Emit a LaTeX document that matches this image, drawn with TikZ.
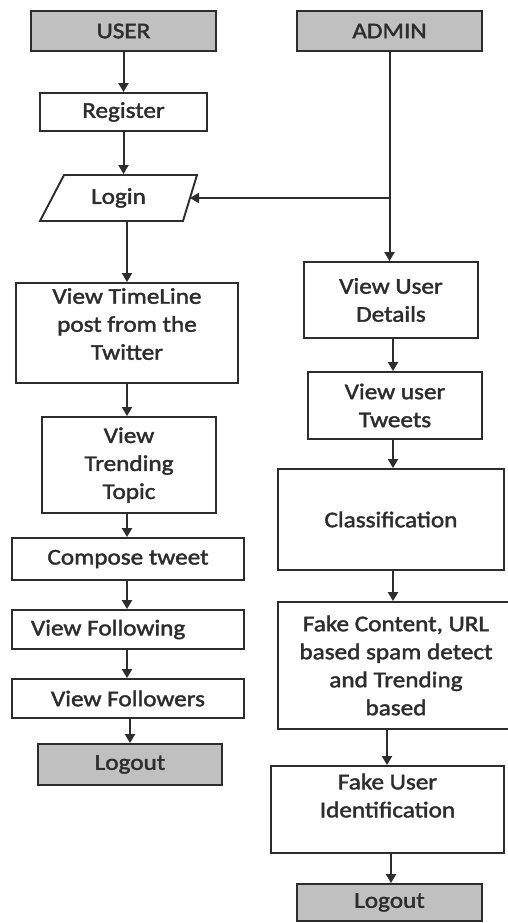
\documentclass[tikz,border=0pt]{standalone}
\usepackage{fontspec}
\setmainfont{Carlito}[FakeStretch=1.12,FakeBold=1.8]
\usetikzlibrary{arrows.meta}
\definecolor{boxgray}{RGB}{192,192,192}
\definecolor{ink}{RGB}{45,45,45}
\tikzset{
  box/.style={draw=ink, line width=1.9pt, rectangle, align=center, text=ink, inner sep=0pt,
    font=\fontsize{22.5}{28}\selectfont},
  headbox/.style={box, fill=boxgray},
  arr/.style={draw=ink, line width=2pt, -{Triangle[width=10pt,length=9pt]}}
}
\begin{document}
\begin{tikzpicture}[x=1pt,y=-1pt]
\useasboundingbox (0,0) rectangle (507,923);
\fill[white] (0,0) rectangle (507,923);
% left column
\node[headbox, minimum width=185pt, minimum height=40pt] (user) at (123.5,31) {USER};
\node[box, minimum width=167pt, minimum height=38pt] (register) at (123.5,112) {Register};
\draw[ink, line width=1.9pt] (64,175) -- (197,175) -- (183,221) -- (40,221) -- cycle;
\node[box, draw=none, minimum width=120pt, minimum height=46pt] (login) at (118.5,198) {Login};
\coordinate (loginR) at (190,198);
\node[box, minimum width=222pt, minimum height=100pt] (timeline) at (127,333) {View TimeLine\\post from the\\Twitter\\[-10pt]\mbox{}};
\node[box, minimum width=174pt, minimum height=96pt] (trending) at (129,465) {View\\Trending\\Topic};
\node[box, minimum width=232pt, minimum height=42pt] (compose) at (128,559) {Compose tweet};
\node[box, minimum width=232pt, minimum height=39pt] (following) at (128,629.5) {};
\node[box, draw=none, anchor=west] (followingtxt) at (30,629.5) {View Following};
\node[box, minimum width=232pt, minimum height=39pt] (followers) at (128,698.5) {View Followers};
\node[headbox, minimum width=184pt, minimum height=41pt] (logoutu) at (130,764.5) {Logout};
% right column
\node[headbox, minimum width=185pt, minimum height=40pt] (admin) at (389.5,31) {ADMIN};
\node[box, minimum width=174pt, minimum height=76pt] (viewuser) at (391,300) {View User\\Details};
\node[box, minimum width=174pt, minimum height=67pt] (tweets) at (395,405.5) {View user\\Tweets};
\node[box, minimum width=226pt, minimum height=101pt] (class) at (391,519.5) {Classification};
\node[box, minimum width=236pt, minimum height=127pt] (fake) at (396,665.5) {Fake Content, URL\\based spam detect\\and Trending\\based};
\node[box, minimum width=233pt, minimum height=87pt] (fakeuser) at (387.5,809.5) {Fake User\\Identification\\\mbox{}};
\node[headbox, minimum width=185pt, minimum height=37pt] (logouta) at (389.5,902.5) {Logout};
% connectors left
\draw[arr] (user.south) -- (user.south |- register.north);
\draw[arr] (register.south) -- (register.south |- login.north);
\draw[arr] (login.south -| timeline.north) -- (timeline.north);
\draw[arr] (timeline.south) -- (timeline.south |- trending.north);
\draw[arr] (timeline.south |- trending.south) -- (timeline.south |- compose.north);
\draw[arr] (timeline.south |- compose.south) -- (timeline.south |- following.north);
\draw[arr] (timeline.south |- following.south) -- (timeline.south |- followers.north);
\draw[arr] (logoutu.north |- followers.south) -- (logoutu.north);
% connectors right
\coordinate (br) at (admin.south |- loginR);
\draw[arr] (admin.south) -- (admin.south |- viewuser.north);
\draw[arr] (br) -- (loginR);
\draw[arr] (viewuser.south -| 393,0) -- (tweets.north -| 393,0);
\draw[arr] (tweets.south -| 393,0) -- (class.north -| 393,0);
\draw[arr] (class.south -| 393,0) -- (fake.north -| 393,0);
\draw[arr] (fake.south -| 387,0) -- (fakeuser.north -| 387,0);
\draw[arr] (fakeuser.south -| 391,0) -- (logouta.north -| 391,0);
\end{tikzpicture}
\end{document}
